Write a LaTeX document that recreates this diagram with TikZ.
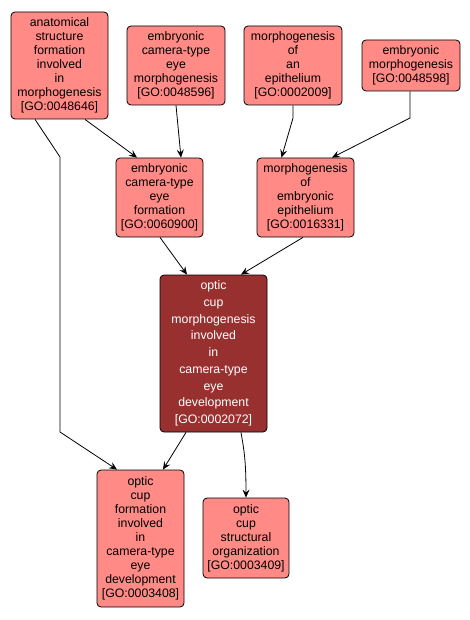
\documentclass[tikz,border=0pt]{standalone}
\usepackage{fontspec}
\setmainfont{Liberation Sans}
\usetikzlibrary{arrows.meta,calc}
\definecolor{lightgo}{HTML}{FF8A86}
\definecolor{darkgo}{HTML}{993030}
\tikzset{
  gobox/.style={draw=black,line width=0.8pt,rounded corners=4pt,fill=lightgo,
    align=center,inner sep=0pt,font=\fontsize{12.3}{14}\selectfont,text=black},
  gofocus/.style={gobox,fill=darkgo,text=white,font=\fontsize{12.3}{16.7}\selectfont},
  edge/.style={draw=black,line width=0.8pt,-{Stealth[length=8pt,width=7pt,inset=3pt]}}
}
\begin{document}
\begin{tikzpicture}[x=1pt,y=-1pt]
\useasboundingbox (0,0) rectangle (469,620);
\node[gobox,minimum width=97pt,minimum height=107pt] (A) at (59.5,65.5)
  {anatomical\\structure\\formation\\involved\\in\\morphogenesis\\{[}GO:0048646{]}};
\node[gobox,minimum width=98pt,minimum height=79pt] (B) at (176,65.5)
  {embryonic\\camera-type\\eye\\morphogenesis\\{[}GO:0048596{]}};
\node[gobox,minimum width=98pt,minimum height=79pt] (D) at (293,65.5)
  {morphogenesis\\of\\an\\epithelium\\{[}GO:0002009{]}};
\node[gobox,minimum width=98pt,minimum height=51pt] (E) at (411,65.5)
  {embryonic\\morphogenesis\\{[}GO:0048598{]}};
\node[gobox,minimum width=87pt,minimum height=79pt] (C) at (159.5,197.5)
  {embryonic\\camera-type\\eye\\formation\\{[}GO:0060900{]}};
\node[gobox,minimum width=97pt,minimum height=79pt] (F) at (305.5,197.5)
  {morphogenesis\\of\\embryonic\\epithelium\\{[}GO:0016331{]}};
\node[gofocus,minimum width=107pt,minimum height=157pt] (G) at (213.5,353.5)
  {optic\\cup\\morphogenesis\\involved\\in\\camera-type\\eye\\development\\{[}GO:0002072{]}};
\node[gobox,minimum width=87pt,minimum height=137pt] (H) at (140.5,538.5)
  {optic\\cup\\formation\\involved\\in\\camera-type\\eye\\development\\{[}GO:0003408{]}};
\node[gobox,minimum width=86pt,minimum height=80pt] (I) at (246,538)
  {optic\\cup\\structural\\organization\\{[}GO:0003409{]}};
\coordinate (a1) at (60,157);
\coordinate (a2) at (60,432);
\coordinate (d1) at (293,118);
\coordinate (e1) at (410,118);
\draw[edge] ([xshift=-24.5pt]A.south) -- (a1) -- (a2) -- ([xshift=-23.5pt]H.north);
\draw[edge] ([xshift=25.5pt]A.south) -- ([xshift=-22.5pt]C.north);
\draw[edge] (B.south) -- ([xshift=21.5pt]C.north);
\draw[edge] (D.south) -- (d1) -- ([xshift=-24pt]F.north);
\draw[edge] ([xshift=-1pt]E.south) -- (e1) -- ([xshift=26.5pt]F.north);
\draw[edge] ([xshift=0.5pt]C.south) -- ([xshift=-26.5pt]G.north);
\draw[edge] ([xshift=-2.5pt]F.south) -- ([xshift=27.5pt]G.north);
\draw[edge] ([xshift=-27.5pt]G.south) -- ([xshift=22.5pt]H.north);
\draw[edge] ([xshift=27.5pt]G.south) .. controls (244,450) and (246,460) .. (I.north);
\end{tikzpicture}
\end{document}
